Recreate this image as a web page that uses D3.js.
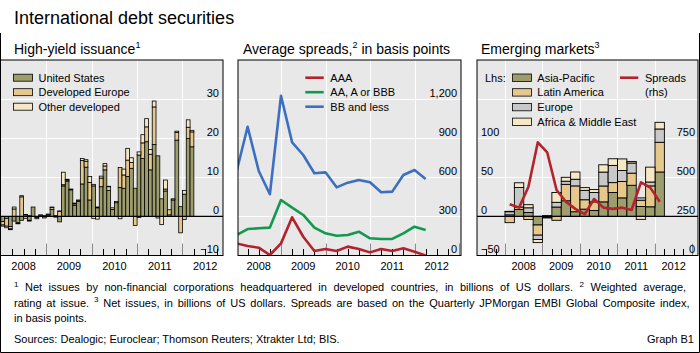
<!DOCTYPE html>
<html><head><meta charset="utf-8">
<script src="https://cdn.jsdelivr.net/npm/d3@7"></script>
<style>
body{margin:0;background:#fff}
svg{display:block}
text{font-family:"Liberation Sans",Arial,sans-serif;fill:#000}
</style>
</head><body>
<svg id="c" width="700" height="353"></svg>
<script>
// ---------- DATA ----------
const hyMonths = ["2008-01","2008-02","2008-03","2008-04","2008-05","2008-06","2008-07","2008-08","2008-09","2008-10","2008-11","2008-12",
"2009-01","2009-02","2009-03","2009-04","2009-05","2009-06","2009-07","2009-08","2009-09","2009-10","2009-11","2009-12",
"2010-01","2010-02","2010-03","2010-04","2010-05","2010-06","2010-07","2010-08","2010-09","2010-10","2010-11","2010-12",
"2011-01","2011-02","2011-03","2011-04","2011-05","2011-06","2011-07","2011-08","2011-09","2011-10","2011-11","2011-12",
"2012-01","2012-02","2012-03"];
const hyUS = [-1.3,-0.5,-2.6,-1.2,-1.6,-1.0,0.4,-1.0,2.4,-0.3,0.3,-0.4,0.3,1.8,0.2,-1.4,7.8,9.0,6.8,2.8,3.8,8.3,12.6,4.2,7.8,2.2,7.6,11.9,6.6,1.8,3.5,7.4,7.2,10.2,12.3,7.2,15.7,14.8,19.1,11.9,18.4,15.5,4.5,6.5,0.4,4.2,19.5,2.5,5.7,19.9,17.8];
const hyEurope = [-0.9,-2.0,-0.6,1.9,-0.2,5.0,-0.5,0.2,0,-0.3,0.1,0.2,0.2,0.5,-0.2,1.3,0.3,0.3,0.2,0.4,0.3,6.0,1.5,4.5,0.4,0.2,2.2,1.0,1.0,0.4,0.3,5.1,3.4,4.2,1.5,-2.3,-0.3,4.0,3.8,4.0,9.6,0,0,0.5,1.3,0.3,2.0,-4.2,-0.8,2.9,3.8];
const hyOther = [-0.3,-0.4,-0.2,0.5,-0.1,0.3,0.1,-0.2,0,0,0,0,0.1,0.1,0,0.1,3.2,0.2,0,0.2,0.1,0.5,0.4,1.5,-0.5,-0.7,0.5,0.6,0.1,0,0,-0.6,1.5,3.0,1.2,0,0.8,2.1,2.1,1.2,1.5,-0.4,-2.1,2.3,0,0,0.3,0,0.9,1.9,0.4];
const hyTicks = [-10,0,10,20,30];

const spQuarters = ["2007Q4","2008Q1","2008Q2","2008Q3","2008Q4","2009Q1","2009Q2","2009Q3","2009Q4","2010Q1","2010Q2","2010Q3","2010Q4","2011Q1","2011Q2","2011Q3","2011Q4","2012Q1"];
const spAAA = [93,73,60,4,93,293,144,35,50,35,68,50,24,50,35,55,29,0];
const spInv = [157,203,209,214,426,367,311,214,170,152,157,183,132,127,127,170,221,196];
const spBB = [643,988,648,470,1226,868,771,631,638,523,559,579,562,485,490,618,656,587];
const spTicks = [0,300,600,900,1200];

const emQuarters = ["2008Q1","2008Q2","2008Q3","2008Q4","2009Q1","2009Q2","2009Q3","2009Q4","2010Q1","2010Q2","2010Q3","2010Q4","2011Q1","2011Q2","2011Q3","2011Q4","2012Q1"];
const emAsia = [2,9,5,-11,1,12,20,6,9.3,7.6,18.6,30.5,23.7,39.8,12.7,12.3,56.8];
const emLatAm = [-8,3,-4,-13,-1.5,-5,21,33,12,11,20.3,12.7,21,15.5,8,26.7,38];
const emEurope = [4,25,6,-5.5,-0.5,6,4,8.5,12,11.9,17.8,22,14,13,3,5,17];
const emAfrica = [0.5,6,4,-4,0,12.5,5,9.3,3.5,3.8,9.3,8.5,14.8,2,-3.8,19,8.5];
const emSpreads = [328,306,440,724,660,419,344,298,264,361,306,298,306,291,468,434,344];
const emLeftTicks = [-50,0,50,100];
const emRightTicks = [0,250,500,750];

const years = [2008,2009,2010,2011,2012];

// ---------- STYLE ----------
const C = {bg:"#e8e8e8", olive:"#9e9d6e", tan:"#e6c88c", cream:"#f6e8c4", grey:"#c8c8c8",
  red:"#b3222d", green:"#12994d", blue:"#3c6fc0"};
const fmt = d3.format(",");
const svg = d3.select("#c");
const TOP = 60, BOT = 255.5;

function monthFrac(s){const [y,m]=s.split("-").map(Number);return y+(m-1)/12;}
function qStart(s){return +s.slice(0,4)+(+s.slice(5)-1)/4;}
function qEnd(s){return +s.slice(0,4)+(+s.slice(5))/4;}
function neg(v){return v<0?"\u2212"+Math.abs(v):String(v);}

// rich text with superscripts
function richText(t, parts, supSize, shift){
  let pending=0;
  parts.forEach(p=>{
    if(p.sup){ t.append("tspan").attr("font-size",supSize).attr("dy",-shift+pending).text(p.sup); pending=shift; }
    else { const s=t.append("tspan").text(p.t); if(pending){ s.attr("dy",pending); pending=0; } }
  });
}

// ---------- TITLES ----------
svg.append("text").attr("x",14).attr("y",24).attr("font-size",18).text("International debt securities");
function panelTitle(x, parts){
  const t = svg.append("text").attr("x",x).attr("y",54).attr("font-size",14);
  richText(t, parts, 9, 6);
}
panelTitle(14,[{t:"High-yield issuance"},{sup:"1"}]);
panelTitle(243,[{t:"Average spreads,"},{sup:"2"},{t:" in basis points"}]);
panelTitle(481,[{t:"Emerging markets"},{sup:"3"}]);

// ---------- HELPERS ----------
function hGrid(g,x0,x1,vals,y){
  g.selectAll(null).data(vals).enter().append("line")
    .attr("x1",x0).attr("x2",x1).attr("y1",d=>Math.round(y(d))+0.5).attr("y2",d=>Math.round(y(d))+0.5)
    .attr("stroke","#fff").attr("stroke-width",1);
}
function vGrid(g,x,dom){
  const ys = years.filter(v=>v>dom[0]+0.01 && v<dom[1]-0.01);
  g.selectAll(null).data(ys).enter().append("line")
    .attr("x1",d=>Math.round(x(d))+0.5).attr("x2",d=>Math.round(x(d))+0.5).attr("y1",TOP).attr("y2",BOT)
    .attr("stroke","#fff").attr("stroke-width",1);
}
function bottomTicks(g,x,dom){
  const q=[];
  for(let v=Math.ceil(dom[0]*4)/4; v<dom[1]; v+=0.25){ if(v>dom[0]+0.01) q.push(+v.toFixed(2)); }
  g.selectAll(null).data(q).enter().append("line")
    .attr("x1",d=>Math.round(x(d))+0.5).attr("x2",d=>Math.round(x(d))+0.5)
    .attr("y1",d=>Number.isInteger(d)?BOT-12:BOT-6.5).attr("y2",BOT)
    .attr("stroke",d=>Number.isInteger(d)?"#8a8a8a":"#000").attr("stroke-width",1);
  svg.selectAll(null).data(years).enter().append("text")
    .attr("x",d=>x(d+0.5)).attr("y",270).attr("text-anchor","middle").attr("font-size",11).text(d=>d);
}
function border(x0,x1){
  svg.append("rect").attr("x",x0).attr("y",TOP).attr("width",x1-x0).attr("height",BOT-TOP)
    .attr("fill","none").attr("stroke","#000").attr("stroke-width",1);
}
function yLabels(vals,y,x,anchor,labelFn){
  svg.selectAll(null).data(vals).enter().append("text")
    .attr("x",x).attr("y",d=>y(d)-2.5).attr("text-anchor",anchor).attr("font-size",11).text(labelFn);
}

// ---------- PANEL 1 ----------
(function(){
  const x0=0.5,x1=223, pxY=45.4, y2008=0.9;
  const dom=[2008+(x0-y2008)/pxY, 2008+(x1-y2008)/pxY];
  const x=d3.scaleLinear().domain(dom).range([x0,x1]);
  const y=d3.scaleLinear().domain([-10,40]).range([BOT,TOP]);
  const g=svg.append("g");
  g.append("rect").attr("x",x0).attr("y",TOP).attr("width",x1-x0).attr("height",BOT-TOP).attr("fill",C.bg);
  hGrid(g,x0,x1,[10,20,30],y);
  vGrid(g,x,dom);
  const rows=hyMonths.map((m,i)=>({m, us:hyUS[i], eur:hyEurope[i], oth:hyOther[i]}));
  const keys=["us","eur","oth"], cols={us:C.olive,eur:C.tan,oth:C.cream};
  const st=d3.stack().keys(keys).offset(d3.stackOffsetDiverging)(rows);
  st.forEach(s=>{
    g.selectAll(null).data(s.filter(d=>Math.abs(d[1]-d[0])>0.05)).enter().append("rect")
      .attr("x",d=>x(monthFrac(d.data.m)))
      .attr("width",d=>x(monthFrac(d.data.m)+1/12)-x(monthFrac(d.data.m)))
      .attr("y",d=>y(Math.max(d[0],d[1])))
      .attr("height",d=>Math.abs(y(d[0])-y(d[1])))
      .attr("fill",cols[s.key]).attr("stroke","#000").attr("stroke-width",0.8);
  });
  g.append("line").attr("x1",x0).attr("x2",x1).attr("y1",y(0)).attr("y2",y(0)).attr("stroke","#000").attr("stroke-width",1.2);
  bottomTicks(g,x,dom);
  yLabels(hyTicks,y,219,"end",neg);
  const lg=[["United States",C.olive],["Developed Europe",C.tan],["Other developed",C.cream]];
  lg.forEach((d,i)=>{
    const cy=77.7+i*14.5;
    svg.append("rect").attr("x",13.5).attr("y",cy-3.5).attr("width",19).attr("height",7).attr("fill",d[1]).attr("stroke","#000").attr("stroke-width",0.8);
    svg.append("text").attr("x",38.5).attr("y",cy+4).attr("font-size",11).text(d[0]);
  });
  border(x0,x1);
})();

// ---------- PANEL 2 ----------
(function(){
  const x0=238,x1=461, pxY=44.5, y2008=236.5;
  const dom=[2008+(x0-y2008)/pxY, 2008+(x1-y2008)/pxY];
  const x=d3.scaleLinear().domain(dom).range([x0,x1]);
  const y=d3.scaleLinear().domain([0,1500]).range([BOT,TOP]);
  const g=svg.append("g");
  g.append("rect").attr("x",x0).attr("y",TOP).attr("width",x1-x0).attr("height",BOT-TOP).attr("fill",C.bg);
  svg.append("clipPath").attr("id","cp2").append("rect").attr("x",x0).attr("y",TOP).attr("width",x1-x0).attr("height",BOT-TOP);
  hGrid(g,x0,x1,[300,600,900,1200],y);
  vGrid(g,x,dom);
  bottomTicks(g,x,dom);
  const line=d3.line().x((d,i)=>x(qEnd(spQuarters[i]))).y(d=>y(d));
  [[spAAA,C.red],[spInv,C.green],[spBB,C.blue]].forEach(([s,c])=>{
    g.append("path").attr("d",line(s)).attr("fill","none").attr("stroke",c).attr("stroke-width",2.6)
      .attr("stroke-linejoin","round").attr("clip-path","url(#cp2)");
  });
  yLabels(spTicks,y,457,"end",d=>fmt(d));
  const lg=[["AAA",C.red],["AA, A or BBB",C.green],["BB and less",C.blue]];
  lg.forEach((d,i)=>{
    const cy=77.7+i*14.5;
    svg.append("line").attr("x1",305.3).attr("x2",323.7).attr("y1",cy).attr("y2",cy).attr("stroke",d[1]).attr("stroke-width",2.6);
    svg.append("text").attr("x",330.3).attr("y",cy+4).attr("font-size",11).text(d[0]);
  });
  border(x0,x1);
})();

// ---------- PANEL 3 ----------
(function(){
  const x0=477,x1=698, pxY=37.5, y2008=505;
  const dom=[2008+(x0-y2008)/pxY, 2008+(x1-y2008)/pxY];
  const x=d3.scaleLinear().domain(dom).range([x0,x1]);
  const yl=d3.scaleLinear().domain([-50,200]).range([BOT,TOP]);
  const yr=d3.scaleLinear().domain([0,1250]).range([BOT,TOP]);
  const g=svg.append("g");
  g.append("rect").attr("x",x0).attr("y",TOP).attr("width",x1-x0).attr("height",BOT-TOP).attr("fill",C.bg);
  svg.append("clipPath").attr("id","cp3").append("rect").attr("x",x0).attr("y",TOP).attr("width",x1-x0).attr("height",BOT-TOP);
  hGrid(g,x0,x1,[50,100,150],yl);
  vGrid(g,x,dom);
  const rows=emQuarters.map((q,i)=>({q, a:emAsia[i], l:emLatAm[i], e:emEurope[i], f:emAfrica[i]}));
  const keys=["a","l","e","f"], cols={a:C.olive,l:C.tan,e:C.grey,f:C.cream};
  const st=d3.stack().keys(keys).offset(d3.stackOffsetDiverging)(rows);
  st.forEach(s=>{
    g.selectAll(null).data(s.filter(d=>Math.abs(d[1]-d[0])>0.05)).enter().append("rect")
      .attr("x",d=>x(qStart(d.data.q)))
      .attr("width",d=>x(qStart(d.data.q)+0.25)-x(qStart(d.data.q)))
      .attr("y",d=>yl(Math.max(d[0],d[1])))
      .attr("height",d=>Math.abs(yl(d[0])-yl(d[1])))
      .attr("fill",cols[s.key]).attr("stroke","#000").attr("stroke-width",0.9);
  });
  g.append("line").attr("x1",x0).attr("x2",x1).attr("y1",yl(0)).attr("y2",yl(0)).attr("stroke","#000").attr("stroke-width",1.2);
  const line=d3.line().x((d,i)=>x(qStart(emQuarters[i])+0.125)).y(d=>yr(d));
  g.append("path").attr("d",line(emSpreads)).attr("fill","none").attr("stroke",C.red).attr("stroke-width",2.6)
    .attr("stroke-linejoin","round").attr("clip-path","url(#cp3)");
  bottomTicks(g,x,dom);
  yLabels(emLeftTicks,yl,481,"start",neg);
  yLabels(emRightTicks,yr,695,"end",d=>String(d));
  svg.append("text").attr("x",485).attr("y",81.7).attr("font-size",11).text("Lhs:");
  const lg=[["Asia-Pacific",C.olive],["Latin America",C.tan],["Europe",C.grey],["Africa & Middle East",C.cream]];
  lg.forEach((d,i)=>{
    const cy=77.7+i*14.7;
    svg.append("rect").attr("x",512.5).attr("y",cy-3.7).attr("width",19).attr("height",7.4).attr("fill",d[1]).attr("stroke","#000").attr("stroke-width",0.8);
    svg.append("text").attr("x",537.3).attr("y",cy+4).attr("font-size",11).text(d[0]);
  });
  svg.append("line").attr("x1",620).attr("x2",638.3).attr("y1",77.7).attr("y2",77.7).attr("stroke",C.red).attr("stroke-width",2.6);
  svg.append("text").attr("x",645).attr("y",81.7).attr("font-size",11).text("Spreads");
  svg.append("text").attr("x",645).attr("y",96.3).attr("font-size",11).text("(rhs)");
  border(x0,x1);
})();

// ---------- FOOTNOTES ----------
function fnLine(yb, parts, justifyTo){
  const t=svg.append("text").attr("x",14).attr("y",yb).attr("font-size",11);
  richText(t, parts, 8, 4.5);
  if(justifyTo){
    const w=t.node().getComputedTextLength();
    const n=(t.text().match(/ /g)||[]).length;
    if(n>0) t.attr("word-spacing",(justifyTo-14-w)/n);
  }
  return t;
}
fnLine(291,[{sup:"1"},{t:" Net issues by non-financial corporations headquartered in developed countries, in billions of US dollars.   "},{sup:"2"},{t:" Weighted average,"}],693);
fnLine(306.5,[{t:"rating at issue.   "},{sup:"3"},{t:" Net issues, in billions of US dollars. Spreads are based on the Quarterly JPMorgan EMBI Global Composite index,"}],693);
fnLine(322,[{t:"in basis points."}],null);
svg.append("text").attr("x",14).attr("y",343).attr("font-size",11).text("Sources: Dealogic; Euroclear; Thomson Reuters; Xtrakter Ltd; BIS.");
svg.append("text").attr("x",694).attr("y",343).attr("font-size",11).attr("text-anchor","end").text("Graph B1");

// ---------- OUTER FRAME ----------
svg.append("path").attr("d","M0.5,33 V352.5 H699.5 V33").attr("fill","none").attr("stroke","#000").attr("stroke-width",1);
</script>
</body></html>
